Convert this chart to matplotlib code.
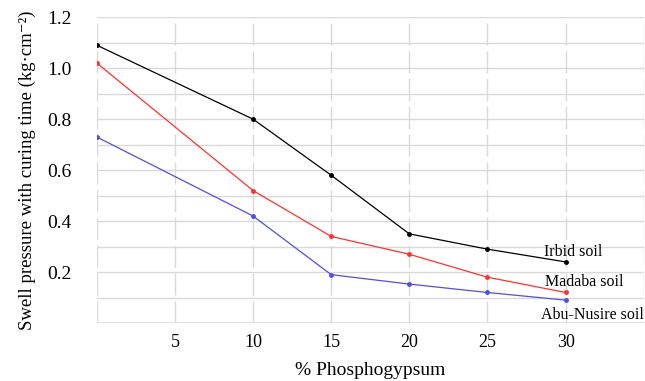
import matplotlib
matplotlib.use("Agg")
import matplotlib.pyplot as plt

# data
phospho = [0, 10, 15, 20, 25, 30]
irbid = [1.09, 0.80, 0.58, 0.35, 0.29, 0.24]
madaba = [1.02, 0.52, 0.34, 0.27, 0.18, 0.12]
abu_nusire = [0.73, 0.42, 0.19, 0.153, 0.12, 0.09]

x_ticks = [5, 10, 15, 20, 25, 30]
y_ticks = [0.2, 0.4, 0.6, 0.8, 1.0, 1.2]

plt.rcParams['font.family'] = ['Liberation Serif', 'DejaVu Serif']

fig = plt.figure(figsize=(6.45, 3.81), dpi=100)
ax = fig.add_axes([0.150, 0.152, 0.848, 0.803])

grid_col = "#d9d9d9"
for yv in [0.1 * i for i in range(1, 13)]:
    ax.axhline(yv, color=grid_col, lw=1.0, zorder=0)
for xv in [0] + x_ticks + [35]:
    ax.axvline(xv, color=grid_col, lw=1.0, ls=(0, (16, 4)), zorder=0)
ax.axhline(0, color=grid_col, lw=1.2, zorder=0)

ax.plot(phospho, irbid, color="black", lw=0.9, marker="o", ms=2.5)
ax.plot(phospho, madaba, color="#ff3030", lw=0.9, marker="o", ms=2.5)
ax.plot(phospho, abu_nusire, color="#5050dd", lw=0.9, marker="o", ms=2.5)

ax.text(30.5, 0.28, "Irbid soil", fontsize=11.5, ha="center", va="center")
ax.text(31.2, 0.16, "Madaba soil", fontsize=11.5, ha="center", va="center")
ax.text(31.7, 0.03, "Abu-Nusire soil", fontsize=11.5, ha="center", va="center")

ax.set_xlim(0, 35)
ax.set_ylim(0, 1.2)
ax.set_xticks(x_ticks)
ax.set_yticks(y_ticks)
ax.set_yticklabels(["%.1f" % v for v in y_ticks])
ax.tick_params(axis="y", length=0, labelsize=14, pad=18)
ax.tick_params(axis="x", length=0, labelsize=13, pad=8)
for s in ax.spines.values():
    s.set_visible(False)

ax.set_xlabel("% Phosphogypsum", fontsize=14, labelpad=8)
ax.set_ylabel("Swell pressure with curing time (kg·cm⁻²)", fontsize=13.5, labelpad=8)

fig.savefig("out.png", dpi=100)
